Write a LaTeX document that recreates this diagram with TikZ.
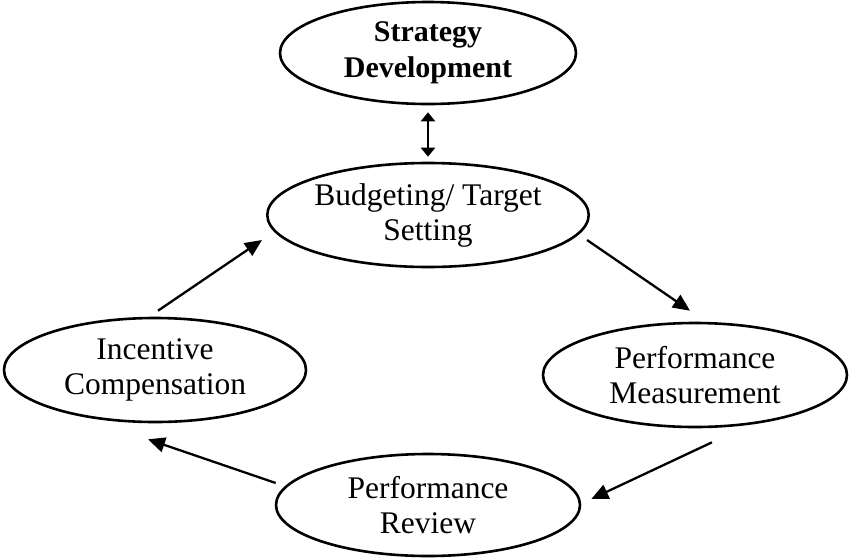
\documentclass[tikz,border=0pt]{standalone}
\usepackage{fontspec}
\setmainfont{Liberation Serif}
\usetikzlibrary{positioning,arrows.meta,shapes.geometric}
\tikzset{
stage/.style={ellipse, draw, line width=2.6pt, inner sep=0pt, minimum width=304pt, minimum height=104pt, align=center, font=\fontsize{31.5}{35}\selectfont},
flow/.style={line width=2.3pt, -{Triangle[length=17pt,width=15pt]}},
link/.style={line width=2.3pt, {Triangle[length=9pt,width=14pt]}-{Triangle[length=9pt,width=14pt]}}
}

\begin{document}
\begin{tikzpicture}[x=1pt,y=-1pt]
  \useasboundingbox (0,0) rectangle (849,558);
  \node[stage, minimum width=296pt, minimum height=102pt, font=\fontsize{30}{36}\selectfont\bfseries] (strategy) at (428,53) {Strategy\\Development};
  \node[stage] (budget) at (428,215) {Budgeting/ Target\\Setting};
  \node[stage] (measure) at (695,375) {Performance\\Measurement};
  \node[stage, minimum height=102pt] (review) at (428,505) {Performance\\Review};
  \node[stage, minimum width=302pt] (incentive) at (155,370) {Incentive\\Compensation};
  \draw[link] ([yshift=-7pt]strategy.south) -- ([yshift=5pt]budget.north);
  \draw[flow] ([shift={(-3pt,-25pt)}]budget.east) -- ([shift={(-5pt,11pt)}]measure.north);
  \draw[flow] ([shift={(17pt,-14pt)}]measure.south) -- ([shift={(10pt,6pt)}]review.east);
  \draw[flow] ([shift={(1pt,22pt)}]review.west) -- ([shift={(-7pt,-16pt)}]incentive.south);
  \draw[flow] ([shift={(3pt,6pt)}]incentive.north) -- ([shift={(-4pt,-25pt)}]budget.west);
\end{tikzpicture}
\end{document}
